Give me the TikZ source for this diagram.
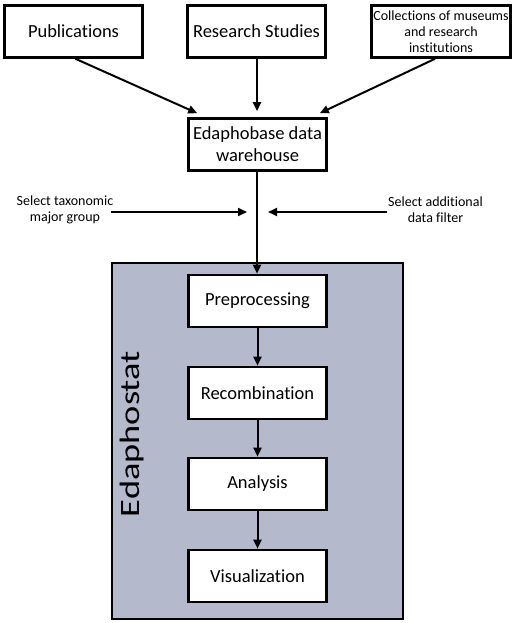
\documentclass[tikz,border=0pt]{standalone}
\usepackage{fontspec}
\setmainfont{Carlito}[Ligatures=NoCommon]
\usetikzlibrary{arrows.meta,calc}
\definecolor{boxfill}{HTML}{B4B9CC}
\begin{document}
\begin{tikzpicture}[x=1pt,y=-1pt,
  box/.style={draw=black,line width=2.6pt,fill=white,minimum width=138pt,minimum height=52pt,inner sep=2pt,align=center,font=\fontsize{18.5}{22}\selectfont},
  smallbox/.style={box,font=\fontsize{14}{16}\selectfont},
  lbl/.style={align=center,inner sep=0pt,font=\fontsize{14}{16}\selectfont},
  arr/.style={line width=2pt,-{Triangle[length=9pt,width=8pt]}}]
\useasboundingbox (0,0) rectangle (520,623);
\draw[line width=2pt,fill=boxfill] (112,263) rectangle (403,619);
\node[rotate=90] (eds) at (132.5,434) {\scalebox{1.3}[1]{\fontsize{28}{30}\selectfont Edaphostat}};
\node[box] (pub) at (73.5,31.5) {Publications};
\node[box] (res) at (256.5,31.5) {Research Studies};
\node[smallbox,minimum width=139pt] (col) at (441,31.5) {Collections of museums\\and research\\institutions};
\node[box] (edb) at (257.5,144.5) {Edaphobase data\\warehouse};
\node[box] (pre) at (257.5,301) {Preprocessing};
\node[box] (rec) at (257.5,393) {Recombination};
\node[box] (ana) at (257.5,484) {Analysis};
\node[box] (vis) at (257.5,576) {Visualization};
\node[lbl] (sel1) at (65,210) {Select taxonomic\\major group};
\node[lbl] (sel2) at (435.5,210) {Select additional\\data filter};
\coordinate (t1) at (247,212);
\coordinate (t2) at (268,212);
\draw[arr] ([xshift=2pt]pub.south) -- ([xshift=10pt,yshift=4pt]edb.north west);
\draw[arr] ([xshift=0.5pt]res.south) -- ([xshift=-0.5pt,yshift=6pt]edb.north);
\draw[arr] ([xshift=-6pt]col.south) -- ([xshift=-8pt,yshift=4pt]edb.north east);
\draw[arr] ([xshift=-0.5pt]edb.south) -- ([xshift=-0.5pt]pre.north);
\draw[arr] (pre) -- (rec);
\draw[arr] (rec) -- (ana);
\draw[arr] (ana) -- (vis);
\draw[arr] ([xshift=-2pt]sel1.east |- t1) -- (t1);
\draw[arr] ([xshift=-1pt]sel2.west |- t2) -- (t2);
\end{tikzpicture}
\end{document}
